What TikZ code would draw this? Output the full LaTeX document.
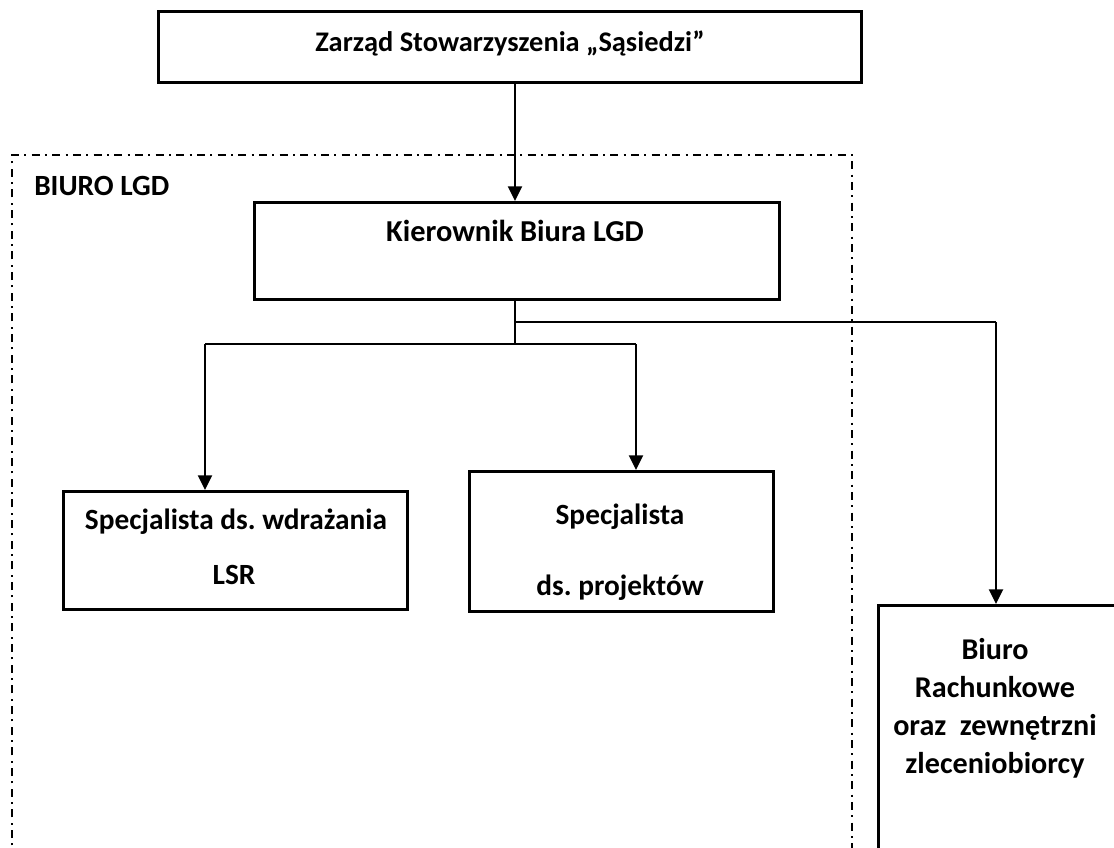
\documentclass[tikz,border=0pt]{standalone}
\usepackage{fontspec}
\setmainfont{Carlito}
\usetikzlibrary{arrows.meta}
\frenchspacing
\begin{document}
\begin{tikzpicture}[x=0.75pt,y=-0.75pt,
  box/.style={draw=black,line width=2pt,inner sep=0pt,anchor=north west},
  lbl/.style={font=\bfseries\fontsize{22}{26}\selectfont,inner sep=0pt},
  conn/.style={line width=1.7pt},
  arr/.style={conn,-{Triangle[length=11pt,width=10.5pt]}},
  dashdot/.style={line width=1.5pt,dash pattern=on 6pt off 4pt on 1.5pt off 4pt}]
\useasboundingbox (0,0) rectangle (1114,847);
\clip (0,0) rectangle (1114,847);
% dash-dot frame of the office
\draw[dashdot] (12,900) -- (12,155) -- (852,155) -- (852,900);
\node[lbl,anchor=west] (biurolgd) at (34,186) {BIURO LGD};
% boxes
\node[box,minimum width=703*0.75pt,minimum height=71*0.75pt] (zarzad) at (157,10) {};
\node[lbl,font=\bfseries\fontsize{21.3}{26}\selectfont] (tzarzad) at (510,43) {Zarząd Stowarzyszenia „Sąsiedzi”};
\node[box,minimum width=525*0.75pt,minimum height=97*0.75pt] (kier) at (253,201) {};
\node[lbl,font=\bfseries\fontsize{22.8}{26}\selectfont] (tkier) at (515,231) {Kierownik Biura LGD};
\node[box,minimum width=344*0.75pt,minimum height=118*0.75pt] (spec1) at (62,490) {};
\node[lbl] (tspec1a) at (236,522) {Specjalista ds. wdrażania};
\node[lbl] (tspec1b) at (234,575) {LSR};
\node[box,minimum width=304*0.75pt,minimum height=140*0.75pt] (spec2) at (468,470) {};
\node[lbl] (tspec2a) at (620,517) {Specjalista};
\node[lbl] (tspec2b) at (620,588) {ds. projektów};
\node[box,minimum width=260*0.75pt,minimum height=320*0.75pt] (biuro) at (877,604) {};
\node[lbl,align=center,font=\bfseries\fontsize{22.6}{28.5}\selectfont,anchor=north] (tbiuro) at (995,638) {Biuro\\Rachunkowe\\oraz\ \ zewnętrzni\\zleceniobiorcy};
% connectors
\coordinate (k1) at (515,298);
\coordinate (j1) at (515,344);
\coordinate (j2) at (515,322);
\coordinate (l1) at (205,344);
\coordinate (r1) at (636,344);
\coordinate (b1) at (996,322);
\draw[arr] (zarzad.south -| k1) -- (kier.north -| k1);
\draw[conn] (kier.south -| k1) -- (j1);
\draw[conn] (l1) -- (r1);
\draw[arr] (l1) -- (spec1.north -| l1);
\draw[arr] (r1) -- (spec2.north -| r1);
\draw[conn] (j2) -- (b1);
\draw[arr] (b1) -- (biuro.north -| b1);
\end{tikzpicture}
\end{document}
